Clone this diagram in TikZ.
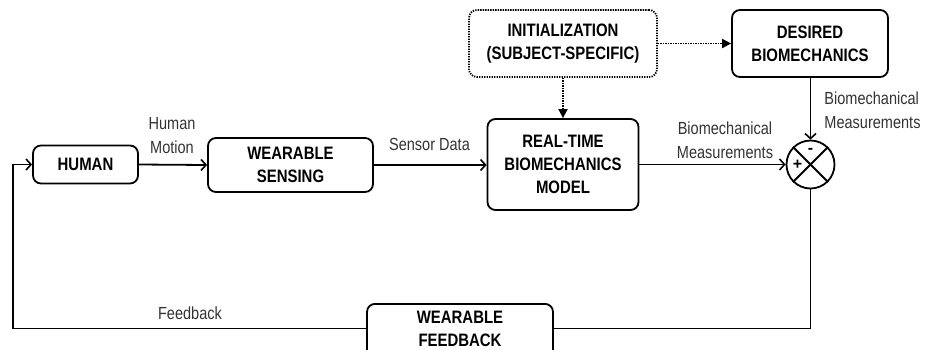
\documentclass[tikz,border=0pt]{standalone}
\usepackage{fontspec}
\setmainfont{Liberation Sans}
\newfontfamily\narrowsans[FakeStretch=0.83]{Liberation Sans}
\usetikzlibrary{arrows.meta,calc}
\definecolor{lblgray}{HTML}{333333}
\tikzset{
  blk/.style={draw=black, line width=1.8pt, rounded corners=8pt, align=center,
    font=\narrowsans\fontsize{18}{23}\selectfont\bfseries, inner sep=0pt},
  dotblk/.style={blk, dash pattern=on 1.3pt off 1.2pt},
  lbl/.style={font=\narrowsans\fontsize{17.5}{23.5}\selectfont, text=lblgray, align=center, inner sep=0pt},
  conn/.style={line width=1.8pt, -{Straight Barb[length=5pt,width=11pt,line width=1.6pt]}},
  plain/.style={line width=1.8pt},
  dotconn/.style={line width=1.8pt, dash pattern=on 1.3pt off 1.2pt, -{Triangle[length=9pt,width=9pt]}}
}
\begin{document}
\begin{tikzpicture}[x=1pt,y=-1pt]
\useasboundingbox (0,0) rectangle (927,349);
\clip (0,0) rectangle (927,349);
% blocks
\node[blk, minimum width=105pt, minimum height=38pt] (human) at (85.5,164.5) {HUMAN};
\node[blk, minimum width=165pt, minimum height=54pt] (ws) at (290.5,165) {WEARABLE\\SENSING};
\node[blk, minimum width=151pt, minimum height=91pt] (rt) at (563,164.5) {REAL-TIME\\BIOMECHANICS\\MODEL};
\node[dotblk, minimum width=188pt, minimum height=67pt] (init) at (563,43.5) {INITIALIZATION\\(SUBJECT-SPECIFIC)};
\node[blk, minimum width=156pt, minimum height=67pt] (des) at (810,43.5) {DESIRED\\BIOMECHANICS};
\node[blk, minimum width=186pt, minimum height=54pt, anchor=north] (wf) at (460,303) {};
\node[font=\narrowsans\fontsize{18}{23}\selectfont\bfseries, align=center, inner sep=0pt] (wft) at (460,328.5) {WEARABLE\\FEEDBACK};
% summing junction
\node[draw, circle, line width=1.8pt, minimum size=48pt, inner sep=0pt] (sum) at (810.5,164.5) {};
\draw[plain] (sum.north west) -- (sum.south east);
\draw[plain] (sum.north east) -- (sum.south west);
\node[font=\fontsize{16}{16}\selectfont\bfseries, inner sep=0pt] (minus) at (810.5,151) {-};
\node[font=\fontsize{16}{16}\selectfont\bfseries, inner sep=0pt] (plus) at (797.5,165) {+};
% connectors
\draw[conn] (human.east) -- (ws.west);
\draw[conn] (ws.east) -- (rt.west |- ws.east);
\draw[conn] (rt.east) -- (sum.west);
\draw[conn] (des.south -| sum.north) -- (sum.north);
\draw[dotconn] (init.east) -- (des.west);
\draw[dotconn] (init.south) -- (rt.north);
\coordinate (lc) at (13,328.5);
\draw[plain] (sum.south) |- (wf.east |- lc);
\draw[conn] (wf.west |- lc) -- (lc) |- (human.west);
% labels
\node[lbl] (lhm) at (172,135.5) {Human\\Motion};
\node[lbl] (lsd) at (429.5,144.5) {Sensor Data};
\node[lbl] (lbm1) at (725,140) {Biomechanical\\Measurements};
\node[lbl, align=left] (lbm2) at (872.5,110) {Biomechanical\\Measurements};
\node[lbl] (lfb) at (190,313.5) {Feedback};
\end{tikzpicture}
\end{document}
